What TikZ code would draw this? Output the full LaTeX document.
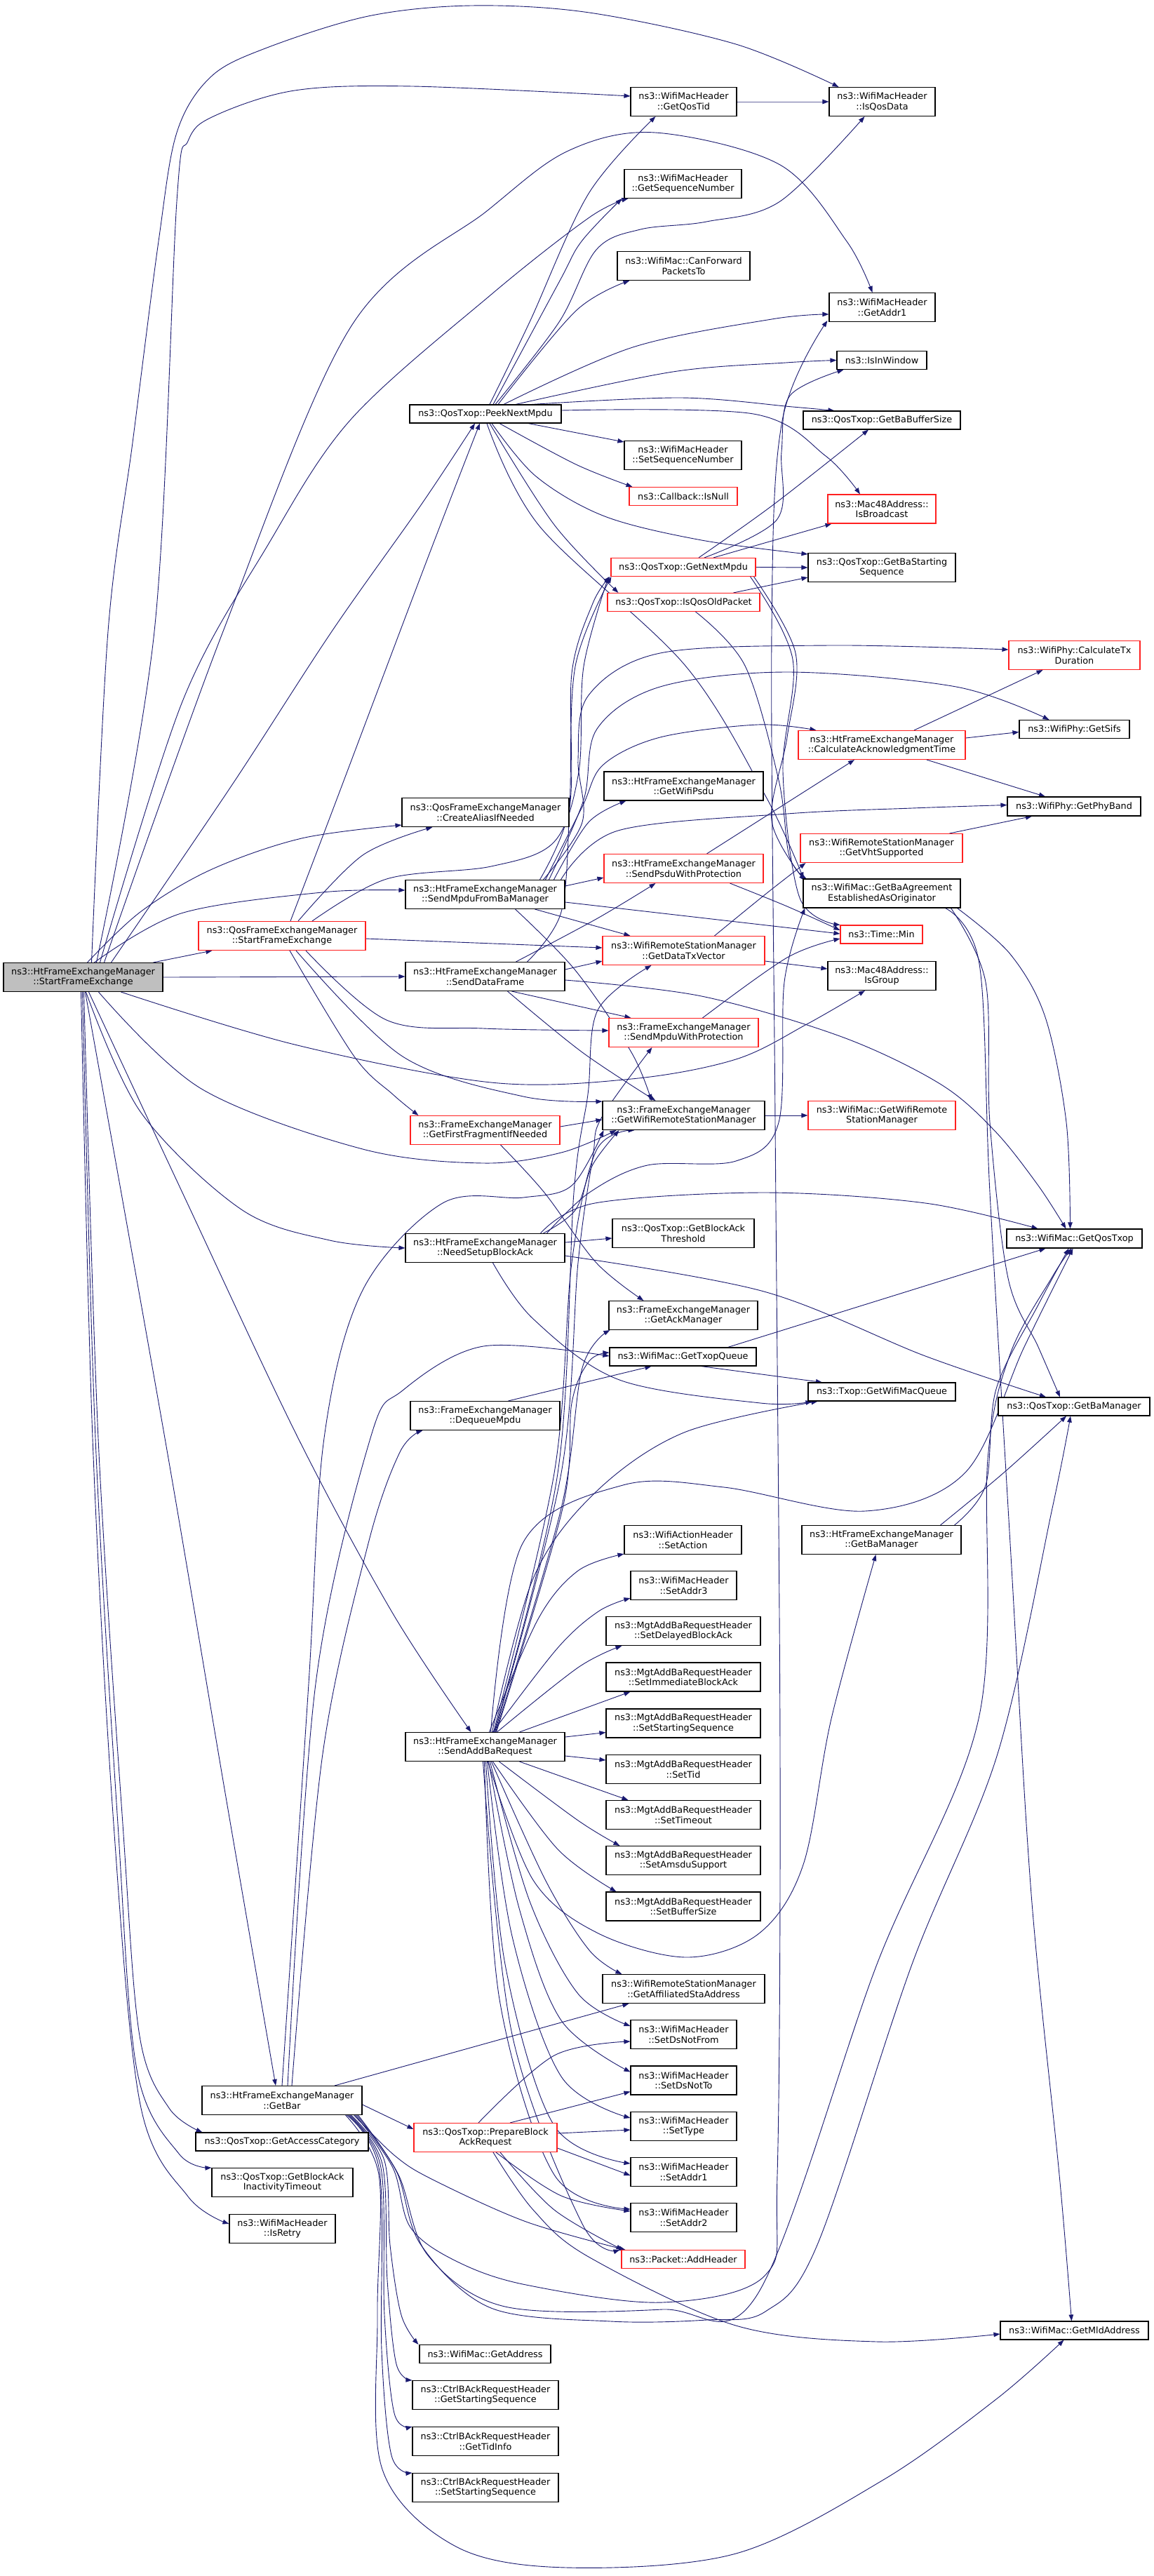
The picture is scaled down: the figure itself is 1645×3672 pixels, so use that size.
\documentclass[tikz,border=0pt]{standalone}
\usepackage{fontspec}
\setmainfont{DejaVu Sans}
\usetikzlibrary{arrows.meta}
\definecolor{edgec}{HTML}{191970}
\definecolor{grayfill}{HTML}{BFBFBF}
\definecolor{redb}{HTML}{FF2020}
\pgfdeclarelayer{edgelayer}
\pgfdeclarelayer{paper}
\pgfsetlayers{paper,edgelayer,main}
\newcommand\mkN[7]{\node[#1,minimum width=#5pt,minimum height=#6pt] (#2) at (#3,#4) {#7};}
\newcommand\edgeP[1]{\draw[e] plot[smooth,tension=0.55] coordinates {#1};}
\begin{document}
\begin{tikzpicture}[x=1pt,y=-1pt,
  nb/.style={draw=black,fill=white,line width=1.1pt,inner sep=0pt,align=center,font=\fontsize{12.8}{14.5}\selectfont},
  nr/.style={nb,draw=redb},
  ng/.style={nb,fill=grayfill},
  e/.style={draw=edgec,line width=0.9pt,-{Triangle[length=9pt,width=6.5pt]}}]
\useasboundingbox (0,0) rectangle (1645,3672);
\begin{pgfonlayer}{paper}
\fill[white] (0,0) rectangle (1645,3672);
\end{pgfonlayer}
\mkN{ng}{root}{118.5}{1393}{227}{41}{ns3::HtFrameExchangeManager\\::StartFrameExchange}
\mkN{nr}{qfemsfe}{402}{1334}{238}{41}{ns3::QosFrameExchangeManager\\::StartFrameExchange}
\mkN{nb}{getbar}{402}{2994}{228}{41}{ns3::HtFrameExchangeManager\\::GetBar}
\mkN{nb}{getac}{402}{3053}{246}{26}{ns3::QosTxop::GetAccessCategory}
\mkN{nb}{getbait}{402.5}{3111}{201}{41}{ns3::QosTxop::GetBlockAck\\InactivityTimeout}
\mkN{nb}{isretry}{402.5}{3177}{151}{41}{ns3::WifiMacHeader\\::IsRetry}
\mkN{nb}{peek}{692}{590}{216}{26}{ns3::QosTxop::PeekNextMpdu}
\mkN{nb}{createalias}{692}{1158}{238}{41}{ns3::QosFrameExchangeManager\\::CreateAliasIfNeeded}
\mkN{nb}{sendmpdubam}{691.5}{1275}{227}{41}{ns3::HtFrameExchangeManager\\::SendMpduFromBaManager}
\mkN{nb}{senddata}{691.5}{1392}{227}{41}{ns3::HtFrameExchangeManager\\::SendDataFrame}
\mkN{nr}{getfirstfrag}{691.5}{1611}{213}{41}{ns3::FrameExchangeManager\\::GetFirstFragmentIfNeeded}
\mkN{nb}{needsetup}{691.5}{1779}{227}{41}{ns3::HtFrameExchangeManager\\::NeedSetupBlockAck}
\mkN{nb}{dequeue}{691.5}{2018}{213}{41}{ns3::FrameExchangeManager\\::DequeueMpdu}
\mkN{nb}{sendaddba}{691.5}{2490}{227}{41}{ns3::HtFrameExchangeManager\\::SendAddBaRequest}
\mkN{nr}{prepbar}{692}{3047}{204}{41}{ns3::QosTxop::PrepareBlock\\AckRequest}
\mkN{nb}{getaddress}{691.5}{3355.5}{187}{26}{ns3::WifiMac::GetAddress}
\mkN{nb}{getss}{692}{3414}{208}{41}{ns3::CtrlBAckRequestHeader\\::GetStartingSequence}
\mkN{nb}{gettidinfo}{692}{3480}{208}{41}{ns3::CtrlBAckRequestHeader\\::GetTidInfo}
\mkN{nb}{setss}{692}{3546}{208}{41}{ns3::CtrlBAckRequestHeader\\::SetStartingSequence}
%
\mkN{nb}{getqostid}{974.5}{145}{151}{41}{ns3::WifiMacHeader\\::GetQosTid}
\mkN{nb}{getseq}{973.5}{262}{167}{41}{ns3::WifiMacHeader\\::GetSequenceNumber}
\mkN{nb}{canfwd}{974.5}{379}{189}{41}{ns3::WifiMac::CanForward\\PacketsTo}
\mkN{nb}{setseq}{973.5}{649}{167}{41}{ns3::WifiMacHeader\\::SetSequenceNumber}
\mkN{nr}{isnull}{974}{707.5}{154}{26}{ns3::Callback::IsNull}
\mkN{nr}{getnext}{974}{808.5}{206}{26}{ns3::QosTxop::GetNextMpdu}
\mkN{nr}{isqosold}{974.5}{858.5}{217}{26}{ns3::QosTxop::IsQosOldPacket}
\mkN{nb}{getwifipsdu}{974.5}{1120.5}{227}{41}{ns3::HtFrameExchangeManager\\::GetWifiPsdu}
\mkN{nr}{sendpsdu}{974.5}{1238}{227}{41}{ns3::HtFrameExchangeManager\\::SendPsduWithProtection}
\mkN{nr}{getdatatx}{974.5}{1355}{231}{41}{ns3::WifiRemoteStationManager\\::GetDataTxVector}
\mkN{nr}{sendmpduprot}{974.5}{1472}{213}{41}{ns3::FrameExchangeManager\\::SendMpduWithProtection}
\mkN{nb}{getwrsm}{974.5}{1590}{231}{41}{ns3::FrameExchangeManager\\::GetWifiRemoteStationManager}
\mkN{nb}{getbathr}{974}{1758}{202}{41}{ns3::QosTxop::GetBlockAck\\Threshold}
\mkN{nb}{getackmgr}{974}{1875}{212}{41}{ns3::FrameExchangeManager\\::GetAckManager}
\mkN{nb}{gettxopq}{973.5}{1934}{209}{26}{ns3::WifiMac::GetTxopQueue}
\mkN{nb}{setaction}{973.5}{2195}{167}{41}{ns3::WifiActionHeader\\::SetAction}
\mkN{nb}{setaddr3}{974.5}{2260}{151}{41}{ns3::WifiMacHeader\\::SetAddr3}
\mkN{nb}{setdelayed}{974}{2325}{220}{41}{ns3::MgtAddBaRequestHeader\\::SetDelayedBlockAck}
\mkN{nb}{setimm}{974}{2390.5}{220}{41}{ns3::MgtAddBaRequestHeader\\::SetImmediateBlockAck}
\mkN{nb}{setstartseq}{974}{2456.5}{220}{41}{ns3::MgtAddBaRequestHeader\\::SetStartingSequence}
\mkN{nb}{settid}{974}{2522}{220}{41}{ns3::MgtAddBaRequestHeader\\::SetTid}
\mkN{nb}{settimeout}{974}{2587}{220}{41}{ns3::MgtAddBaRequestHeader\\::SetTimeout}
\mkN{nb}{setamsdu}{974}{2652}{220}{41}{ns3::MgtAddBaRequestHeader\\::SetAmsduSupport}
\mkN{nb}{setbufsize}{974}{2717.5}{220}{41}{ns3::MgtAddBaRequestHeader\\::SetBufferSize}
\mkN{nb}{getaffil}{974.5}{2835}{231}{41}{ns3::WifiRemoteStationManager\\::GetAffiliatedStaAddress}
\mkN{nb}{setdsfrom}{974.5}{2900}{151}{41}{ns3::WifiMacHeader\\::SetDsNotFrom}
\mkN{nb}{setdsto}{974.5}{2965.5}{151}{41}{ns3::WifiMacHeader\\::SetDsNotTo}
\mkN{nb}{settype}{974.5}{3031}{151}{41}{ns3::WifiMacHeader\\::SetType}
\mkN{nb}{setaddr1}{974.5}{3096}{151}{41}{ns3::WifiMacHeader\\::SetAddr1}
\mkN{nb}{setaddr2}{974.5}{3161}{151}{41}{ns3::WifiMacHeader\\::SetAddr2}
\mkN{nr}{addheader}{974}{3220.5}{176}{26}{ns3::Packet::AddHeader}
%
\mkN{nb}{isqosdata}{1257.5}{145}{151}{41}{ns3::WifiMacHeader\\::IsQosData}
\mkN{nb}{getaddr1}{1257.5}{438}{151}{41}{ns3::WifiMacHeader\\::GetAddr1}
\mkN{nb}{isinwindow}{1257}{513.5}{128}{26}{ns3::IsInWindow}
\mkN{nb}{getbabuf}{1257}{599}{224}{26}{ns3::QosTxop::GetBaBufferSize}
\mkN{nr}{isbcast}{1257}{725.5}{154}{41}{ns3::Mac48Address::\\IsBroadcast}
\mkN{nb}{getbastart}{1257}{809}{210}{41}{ns3::QosTxop::GetBaStarting\\Sequence}
\mkN{nr}{calcack}{1257}{1062}{238}{41}{ns3::HtFrameExchangeManager\\::CalculateAcknowledgmentTime}
\mkN{nr}{getvht}{1256.5}{1209}{231}{41}{ns3::WifiRemoteStationManager\\::GetVhtSupported}
\mkN{nb}{getbaagr}{1257}{1273.5}{224}{41}{ns3::WifiMac::GetBaAgreement\\EstablishedAsOriginator}
\mkN{nr}{timemin}{1256.5}{1332}{117}{26}{ns3::Time::Min}
\mkN{nb}{isgroup}{1257}{1391}{154}{41}{ns3::Mac48Address::\\IsGroup}
\mkN{nr}{getwrsm2}{1257}{1590}{210}{41}{ns3::WifiMac::GetWifiRemote\\StationManager}
\mkN{nb}{txopgetq}{1257}{1984}{210}{26}{ns3::Txop::GetWifiMacQueue}
\mkN{nb}{htgetbam}{1256.5}{2195}{227}{41}{ns3::HtFrameExchangeManager\\::GetBaManager}
%
\mkN{nr}{calctx}{1531.5}{934}{187}{41}{ns3::WifiPhy::CalculateTx\\Duration}
\mkN{nb}{getsifs}{1531.5}{1039.5}{157}{26}{ns3::WifiPhy::GetSifs}
\mkN{nb}{getphyband}{1531}{1149.5}{190}{27}{ns3::WifiPhy::GetPhyBand}
\mkN{nb}{getqostxop}{1531.5}{1765.5}{193}{27}{ns3::WifiMac::GetQosTxop}
\mkN{nb}{qosgetbam}{1531}{2005}{216}{26}{ns3::QosTxop::GetBaManager}
\mkN{nb}{getmld}{1531.5}{3322}{211}{26}{ns3::WifiMac::GetMldAddress}
\begin{pgfonlayer}{edgelayer}
% ---------- root
\edgeP{([xshift=12pt]root.north) (154,900) (189,631) (226,344) (252,189) (300,110) (378,69) (525,23) (672,8) (840,18) (1049,63) ([xshift=-62pt]isqosdata.north)}
\edgeP{([xshift=19pt]root.north) (220,900) (252,287) (268,201) (304,166) (420,129) (588,123) ([yshift=8pt]getqostid.west)}
\edgeP{([xshift=30pt]root.north) (318,900) (500,466) (695,300) (810,215) (934,189) (1112,235) (1207,344) ([xshift=-14pt]getaddr1.north)}
\edgeP{([xshift=24pt]root.north) (260,1000) (380,780) (500,598) (700,420) (840,310) ([xshift=6pt]getseq.south west)}
\edgeP{([xshift=40pt]root.north) (330,1120) (473,900) (600,720) ([xshift=-15pt]peek.south)}
\edgeP{([xshift=6pt]root.north) (200,1300) (300,1240) (430,1195) ([yshift=3pt]createalias.south west)}
\edgeP{([xshift=16pt]root.north) (258,1302) (459,1272) ([yshift=6pt]sendmpdubam.west)}
\edgeP{([xshift=100pt]root.north) ([xshift=20pt]qfemsfe.south west)}
\edgeP{(root.east) (senddata.west)}
\edgeP{([xshift=54pt]root.south) (420,1489) (700,1543) (900,1538) (1049,1510) (1150,1460) ([xshift=-24pt]isgroup.south)}
\edgeP{([xshift=22pt]root.south) (287,1552) (517,1638) (689,1658) (800,1643) ([xshift=20pt]getwrsm.south west)}
\edgeP{([xshift=4pt]root.south) (201,1586) (344,1724) (470,1768) (needsetup.west)}
\edgeP{([xshift=8pt]root.south) (260,1700) (425,2050) (560,2300) ([xshift=-20pt]sendaddba.north)}
\edgeP{([xshift=3pt]root.south) (235,2050) (320,2550) ([xshift=-9pt]getbar.north)}
\edgeP{([xshift=1pt]root.south) (140,2050) (175,2600) (199,2902) (241,3005) ([xshift=10pt]getac.north west)}
\edgeP{([xshift=-1pt]root.south) (136,2050) (168,2600) (195,2950) (255,3070) (getbait.north west)}
\edgeP{([xshift=-3pt]root.south) (132,2050) (162,2600) (200,3000) (268,3131) ([yshift=7pt]isretry.west)}
% ---------- qfemsfe
\edgeP{([xshift=12pt]qfemsfe.north) (476,1150) (608,800) ([xshift=-8pt]peek.south)}
\edgeP{([xshift=23pt]qfemsfe.north) (517,1219) ([xshift=44pt]createalias.south west)}
\edgeP{([xshift=43pt]qfemsfe.north) (551,1253) (700,1235) (790,1200) (825,1100) (832,950) ([xshift=-3pt]getnext.south west)}
\edgeP{([yshift=-4pt]qfemsfe.east) ([yshift=4pt]getdatatx.west)}
\edgeP{([xshift=34pt]qfemsfe.south) (551,1454) (689,1466) ([yshift=3pt]sendmpduprot.west)}
\edgeP{([xshift=20pt]qfemsfe.south) (574,1506) (746,1563) ([yshift=-1pt]getwrsm.north west)}
\edgeP{([xshift=11pt]qfemsfe.south) (505,1506) (560,1560) ([xshift=12pt]getfirstfrag.north west)}
% ---------- peek
\edgeP{([xshift=6pt]peek.north) (755,459) (839,276) ([xshift=-40pt]getqostid.south)}
\edgeP{([xshift=11pt]peek.north) (797,402) (829,344) ([xshift=-3pt]getseq.south west)}
\edgeP{([xshift=18pt]peek.north) (821,443) ([xshift=18pt]canfwd.south west)}
\edgeP{([xshift=14pt]peek.north) (797,459) (850,356) (913,327) (1007,316) (1112,287) ([xshift=-25pt]isqosdata.south)}
\edgeP{([xshift=26pt]peek.north) (902,495) (1100,455) ([yshift=-10pt]getaddr1.west)}
\edgeP{([xshift=43pt]peek.north) (959,530) (1120,517) (isinwindow.west)}
\edgeP{([xshift=66pt]peek.north) (971,567) (1130,580) ([xshift=45pt]getbabuf.north west)}
\edgeP{([yshift=5pt]peek.east) (1074,590) (1177,650) ([xshift=-31pt]isbcast.north)}
\edgeP{([xshift=61pt]peek.south) ([yshift=19pt]setseq.west)}
\edgeP{([xshift=20pt]peek.south) (821,662) ([xshift=5pt]isnull.north west)}
\edgeP{([xshift=9pt]peek.south) (764,679) (862,736) (1000,770) ([yshift=-2pt]getbastart.north west)}
\edgeP{([xshift=6pt]peek.south) (790,748) ([xshift=16pt]isqosold.north west)}
\edgeP{([xshift=2pt]peek.south) (769,750) (977,949) (1092,1136) ([xshift=1pt]getbaagr.north west)}
% ---------- getnext / isqosold
\edgeP{([xshift=30pt]getnext.north) (1108,740) (1114,644) (1126,564) ([xshift=10pt]isinwindow.south west)}
\edgeP{([xshift=22pt]getnext.north) (1103,719) ([xshift=-19pt]getbabuf.south)}
\edgeP{([xshift=43pt]getnext.north) ([xshift=6pt]isbcast.south west)}
\edgeP{(getnext.east) (getbastart.west)}
\edgeP{([xshift=-3pt]getnext.south east) (1134,931) (1122,1051) (1100,1170) ([xshift=3pt,yshift=-3pt]getbaagr.north west)}
\edgeP{([xshift=-8pt]getnext.south east) (1130,940) (1116,1100) (1140,1280) (timemin.north west)}
\edgeP{([xshift=71pt]isqosold.north) ([yshift=-14pt]getbastart.west)}
\edgeP{([xshift=17pt]isqosold.south) (1062,949) (1110,1112) (1125,1220) ([xshift=5pt]getbaagr.north west)}
% ---------- sendmpdubam
\edgeP{([yshift=12pt]sendmpdubam.east) ([yshift=-13pt]sendpsdu.west)}
\edgeP{([yshift=-11pt]sendmpdubam.east) ([yshift=1pt]timemin.west)}
\edgeP{([xshift=71pt]sendmpdubam.south) ([xshift=40pt]getdatatx.north west)}
\edgeP{([xshift=98pt]sendmpdubam.north) (839,1172) ([xshift=32pt]getwifipsdu.south west)}
\edgeP{([xshift=86pt]sendmpdubam.north) (830,1150) (860,1090) (941,1051) (1080,1033) ([xshift=26pt]calcack.north west)}
\edgeP{([xshift=83pt]sendmpdubam.north) (830,1172) (824,1082) (839,991) (941,931) (1182,920) ([yshift=8pt]calctx.west)}
\edgeP{([xshift=91pt]sendmpdubam.north) (832,1140) (851,1039) (941,979) (1122,958) (1363,979) ([xshift=43pt]getsifs.north west)}
\edgeP{([xshift=108pt]sendmpdubam.north) (881,1184) (1122,1160) (1300,1152) ([yshift=2pt]getphyband.west)}
\edgeP{([xshift=78pt]sendmpdubam.north) (812,1150) (815,960) (845,860) ([xshift=-1pt]getnext.south west)}
\edgeP{([xshift=43pt]sendmpdubam.south) (820,1383) (900,1500) ([xshift=-46pt]getwrsm.north)}
% ---------- senddata
\edgeP{([yshift=10pt]senddata.east) ([yshift=-15pt]getdatatx.west)}
\edgeP{([xshift=38pt]senddata.south) ([xshift=32pt]sendmpduprot.north west)}
\edgeP{([xshift=32pt]senddata.south) (830,1500) ([xshift=-40pt]getwrsm.north)}
\edgeP{([xshift=44pt]senddata.north) (850,1310) ([xshift=-40pt]sendpsdu.south)}
\edgeP{([yshift=-5pt]senddata.east) (1000,1420) (1200,1478) (1340,1545) (1418,1612) (1480,1690) ([xshift=-12pt]getqostxop.north)}
\edgeP{([xshift=60pt]senddata.north) (800,1300) (812,1150) (820,950) ([xshift=1pt]getnext.south west)}
% ---------- sendpsdu, sendmpduprot, getdatatx, getwrsm, getfirstfrag
\edgeP{([xshift=33pt]sendpsdu.north) ([xshift=-39pt]calcack.south)}
\edgeP{([xshift=66pt]sendpsdu.south) (1122,1292) ([yshift=6pt]timemin.west)}
\edgeP{([xshift=27pt]sendmpduprot.north) (1122,1365) ([yshift=-6pt]timemin.west)}
\edgeP{([yshift=-15pt]getdatatx.east) ([yshift=10pt]isgroup.west)}
\edgeP{([xshift=44pt]getdatatx.north) (1092,1274) ([xshift=8pt]getvht.south west)}
\edgeP{(getwrsm.east) (getwrsm2.west)}
\edgeP{([yshift=5pt]getfirstfrag.east) ([yshift=-6pt]getwrsm.west)}
\edgeP{([xshift=22pt]getfirstfrag.south) (776,1700) (850,1800) ([xshift=50pt]getackmgr.north west)}
% ---------- right side
\edgeP{([xshift=46pt]calcack.north) ([xshift=-45pt]calctx.south)}
\edgeP{([yshift=10pt]calcack.east) ([yshift=-4pt]getsifs.west)}
\edgeP{([xshift=64pt]calcack.south) ([xshift=-41pt]getphyband.north)}
\edgeP{([xshift=97pt]getvht.north) ([xshift=-60pt]getphyband.south)}
\edgeP{(getqostid.east) (isqosdata.west)}
\edgeP{([xshift=-5pt]getbaagr.south east) (1440,1360) (1490,1450) (1520,1600) ([xshift=-6pt]getqostxop.north)}
\edgeP{([xshift=-14pt]getbaagr.south east) (1405,1400) (1411,1600) (1437,1822) (1480,1920) ([xshift=-20pt]qosgetbam.north)}
\edgeP{([xshift=-22pt]getbaagr.south east) (1396,1374) (1411,1700) (1440,2200) (1470,2700) (1510,3100) ([xshift=-4pt]getmld.north)}
% ---------- needsetup, dequeue, gettxopq, htgetbam
\edgeP{([yshift=8pt]needsetup.east) ([yshift=-7pt]getbathr.west)}
\edgeP{([yshift=-11pt]needsetup.east) (1089,1841) (1319,1933) ([xshift=-40pt]qosgetbam.north)}
\edgeP{([xshift=79pt]needsetup.north) (848,1715) (1089,1700) (1319,1715) ([xshift=-52pt]getqostxop.north)}
\edgeP{([xshift=11pt]needsetup.south) (760,1880) (883,1967) (1084,2000) ([xshift=6pt]txopgetq.south west)}
\edgeP{([xshift=83pt]needsetup.north) (820,1725) (845,1660) ([xshift=-92pt]getwrsm.south)}
\edgeP{([xshift=88pt]needsetup.north) (840,1700) (923,1661) (1049,1655) (1110,1600) (1118,1400) ([xshift=3pt]getbaagr.south west)}
\edgeP{([xshift=33pt]dequeue.north) ([xshift=-45pt]gettxopq.south)}
\edgeP{([xshift=26pt]gettxopq.south) ([xshift=-85pt]txopgetq.north)}
\edgeP{([xshift=64pt]gettxopq.north) ([xshift=-41pt]getqostxop.south)}
\edgeP{([xshift=-10pt]htgetbam.north east) (1405,2117) (1420,1980) (1480,1860) ([xshift=-8pt]getqostxop.south)}
\edgeP{([xshift=-30pt]htgetbam.north east) (1430,2100) ([xshift=-11pt]qosgetbam.south)}
% ---------- sendaddba
\edgeP{([xshift=6pt]sendaddba.north) (767,2308) (824,2239) ([yshift=1pt]setaction.south west)}
\edgeP{([xshift=11pt]sendaddba.north) (795,2349) (853,2297) ([yshift=3pt]setaddr3.south west)}
\edgeP{([xshift=17pt]sendaddba.north) (824,2377) ([xshift=23pt]setdelayed.south west)}
\edgeP{([xshift=49pt]sendaddba.north) ([xshift=35pt]setimm.south west)}
\edgeP{([yshift=14pt]sendaddba.east) ([yshift=-13pt]setstartseq.west)}
\edgeP{([yshift=-13pt]sendaddba.east) ([yshift=13pt]settid.west)}
\edgeP{([xshift=49pt]sendaddba.south) ([xshift=32pt]settimeout.north west)}
\edgeP{([xshift=20pt]sendaddba.south) (824,2595) ([xshift=20pt]setamsdu.north west)}
\edgeP{([xshift=11pt]sendaddba.south) (795,2636) ([xshift=15pt]setbufsize.north west)}
\edgeP{([xshift=9pt]sendaddba.south) (778,2681) (840,2780) ([xshift=28pt]getaffil.north west)}
\edgeP{([xshift=7pt]sendaddba.south) (755,2710) (824,2842) ([yshift=12pt]setdsfrom.west)}
\edgeP{([xshift=5pt]sendaddba.south) (740,2720) (800,2880) ([yshift=12pt]setdsto.west)}
\edgeP{([xshift=3pt]sendaddba.south) (730,2760) (800,2960) ([yshift=12pt]settype.west)}
\edgeP{([xshift=1pt]sendaddba.south) (720,2800) (790,3030) ([yshift=12pt]setaddr1.west)}
\edgeP{([xshift=-1pt]sendaddba.south) (712,2850) (790,3100) ([yshift=12pt]setaddr2.west)}
\edgeP{([xshift=-3pt]sendaddba.south) (730,2900) (830,3170) ([xshift=-2pt]addheader.north west)}
\edgeP{([xshift=8pt]sendaddba.north) (745,2200) (888,2117) (1032,2120) (1233,2154) (1376,2099) (1460,1920) ([xshift=-2pt]getqostxop.south)}
\edgeP{([xshift=10pt]sendaddba.north) (760,2250) (848,2128) (975,2042) ([xshift=14pt]txopgetq.south west)}
\edgeP{([xshift=4pt]sendaddba.south) (760,2680) (853,2756) (979,2790) (1082,2756) (1145,2658) (1185,2450) ([xshift=-8pt]htgetbam.south)}
\edgeP{([xshift=12pt]sendaddba.north) (790,2100) (815,1800) (850,1640) ([xshift=-70pt]getwrsm.south)}
\edgeP{([xshift=13pt]sendaddba.north) (795,2100) (818,1700) (838,1560) (852,1440) ([xshift=-46pt]getdatatx.south)}
\edgeP{([xshift=14pt]sendaddba.north) (800,2100) (824,1800) (845,1650) (857,1594) ([xshift=-45pt]sendmpduprot.south)}
\edgeP{([xshift=15pt]sendaddba.north) (800,2150) (830,1950) ([xshift=2pt]getackmgr.south west)}
\edgeP{([xshift=16pt]sendaddba.north) (802,2150) (815,2000) (840,1940) ([yshift=6pt]gettxopq.west)}
% ---------- getbar
\edgeP{([yshift=-6pt]getbar.east) ([yshift=12pt]prepbar.west)}
\edgeP{([xshift=75pt]getbar.north) ([xshift=38pt]getaffil.south west)}
\edgeP{([xshift=-12pt]getbar.south east) (563,3073) (617,3107) (750,3167) ([xshift=6pt]addheader.north west)}
\edgeP{([xshift=-16pt]getbar.south east) (548,3080) (556,3200) (572,3300) ([xshift=-1pt]getaddress.north west)}
\edgeP{([xshift=-18pt]getbar.south east) (545,3085) (552,3250) (565,3370) (getss.north west)}
\edgeP{([xshift=-20pt]getbar.south east) (543,3090) (548,3300) (562,3440) (gettidinfo.north west)}
\edgeP{([xshift=-22pt]getbar.south east) (541,3095) (544,3350) (558,3500) (setss.north west)}
\edgeP{([xshift=-24pt]getbar.south east) (540,3100) (538,3300) (545,3520) (650,3630) (808,3660) (1049,3640) (1259,3535) (1420,3420) ([xshift=-15pt]getmld.south)}
\edgeP{([xshift=-10pt]getbar.south east) (560,3090) (585,3175) (650,3223) (750,3257) (944,3282) (1091,3243) (1108,3100) (1112,2500) (1105,1600) (1100,900) (1115,600) ([xshift=-2pt,yshift=2pt]getaddr1.south west)}
\edgeP{([xshift=-8pt]getbar.south east) (565,3095) (600,3200) (700,3290) (871,3309) (1007,3307) (1091,3295) (1165,3200) (1300,2800) (1422,2500) (1500,2150) ([xshift=-5pt]qosgetbam.south)}
\edgeP{([xshift=-6pt]getbar.south east) (568,3100) (610,3215) (720,3288) (944,3292) (1080,3270) (1250,2800) (1395,2450) (1408,2080) (1440,1930) (1500,1820) ([xshift=-4pt]getqostxop.south)}
\edgeP{([xshift=8pt]getbar.north) (450,2400) (528,2050) (574,1982) (689,1919) ([yshift=1pt]gettxopq.west)}
\edgeP{(getbar.north) (440,2400) (462,2050) (517,1839) (631,1715) (746,1707) (815,1690) ([xshift=2pt]getwrsm.south west)}
\edgeP{([xshift=14pt]getbar.north) (460,2500) (525,2200) (570,2070) ([xshift=18pt]dequeue.south west)}
% ---------- prepbar
\edgeP{([xshift=-10pt]prepbar.north) (790,2930) ([yshift=-10pt]setdsfrom.west)}
\edgeP{([xshift=35pt]prepbar.north) ([yshift=-16pt]setdsto.west)}
\edgeP{([yshift=6pt]prepbar.east) ([yshift=-5pt]settype.west)}
\edgeP{([yshift=-15pt]prepbar.east) ([yshift=-5pt]setaddr1.west)}
\edgeP{([xshift=15pt]prepbar.south) (800,3130) ([yshift=9pt]setaddr2.west)}
\edgeP{([xshift=21pt]prepbar.south) (790,3150) ([xshift=2pt]addheader.north west)}
\edgeP{([xshift=11pt]prepbar.south) (760,3150) (839,3217) (1049,3315) (1250,3338) ([yshift=-5pt]getmld.west)}
\end{pgfonlayer}
\end{tikzpicture}
\end{document}
